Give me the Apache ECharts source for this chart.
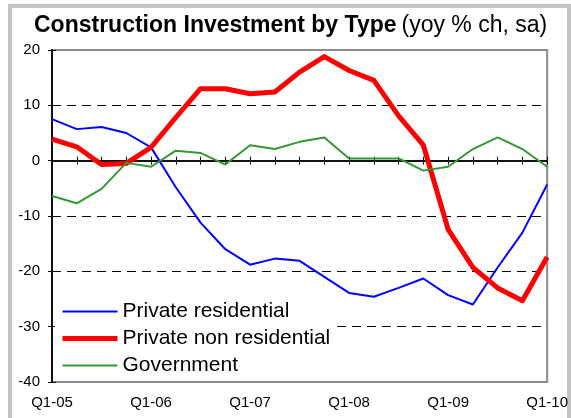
<!DOCTYPE html>
<html>
<head>
<meta charset="utf-8">
<title>Construction Investment by Type</title>
<script src="https://cdn.jsdelivr.net/npm/echarts@6/dist/echarts.min.js"></script>
<style>
html, body { margin: 0; padding: 0; background: #fff; overflow: hidden; }
.frame {
  position: absolute; left: 8px; top: 4px;
  width: 563px; height: 440px;
  box-sizing: border-box;
  border: 4px solid #c4c4c4;
  background: #fff;
}
#chart { position: absolute; left: 0; top: 0; width: 571px; height: 418px; }
</style>
</head>
<body>
<div class="frame"></div>
<div id="chart"></div>
<script>
// quarters Q1-05 .. Q1-10
var quarters = [
  'Q1-05','Q2-05','Q3-05','Q4-05',
  'Q1-06','Q2-06','Q3-06','Q4-06',
  'Q1-07','Q2-07','Q3-07','Q4-07',
  'Q1-08','Q2-08','Q3-08','Q4-08',
  'Q1-09','Q2-09','Q3-09','Q4-09',
  'Q1-10'
];
var privateResidential = [7.5, 5.7, 6.1, 5.0, 2.4, -4.8, -11.2, -16.0, -18.8, -17.7, -18.1,
  -21.0, -23.9, -24.6, -23.0, -21.3, -24.3, -26.0, -19.3, -13.0, -4.3];
var privateNonResidential = [3.9, 2.5, -0.7, -0.5, 2.4, 7.8, 13.0, 13.0, 12.1, 12.4, 16.0,
  18.8, 16.3, 14.5, 8.1, 2.8, -12.4, -19.3, -23.0, -25.3, -17.4];
var government = [-6.4, -7.7, -5.1, -0.4, -1.1, 1.8, 1.4, -0.7, 2.8, 2.1, 3.4,
  4.2, 0.4, 0.4, 0.4, -1.8, -1.1, 2.1, 4.2, 2.1, -1.1];
var yTicks = [-40, -30, -20, -10, 0, 10, 20];

var font = "'Liberation Sans', Arial, sans-serif";
var chart = echarts.init(document.getElementById('chart'));

var option = {
  backgroundColor: 'transparent',
  animation: false,
  title: {
    text: '{b|Construction Investment by Type} {n|(yoy % ch, sa)}',
    left: 29,
    top: 9,
    textStyle: {
      rich: {
        b: { fontFamily: font, fontSize: 23, fontWeight: 'bold', color: '#000' },
        n: { fontFamily: font, fontSize: 23, fontWeight: 'normal', color: '#000' }
      }
    }
  },
  grid: {
    left: 52, right: 23, top: 50, bottom: 36,
    show: true,
    borderColor: '#8c8c8c',
    borderWidth: 2,
    backgroundColor: 'transparent'
  },
  legend: {
    orient: 'vertical',
    left: 55,
    top: 296,
    padding: [5, 3, 5, 5],
    backgroundColor: '#fff',
    itemWidth: 55,
    itemHeight: 14,
    itemGap: 6,
    itemStyle: { opacity: 0 },
    textStyle: { fontFamily: font, fontSize: 21, color: '#000' },
    data: [
      { name: 'Private residential', lineStyle: { width: 2 } },
      { name: 'Private non residential', lineStyle: { width: 5 } },
      { name: 'Government', lineStyle: { width: 2 } }
    ]
  },
  xAxis: [
    {
      type: 'category',
      data: quarters,
      boundaryGap: false,
      axisLine: { lineStyle: { color: '#111', width: 2 } },
      axisTick: { show: true, interval: 0, length: 4, lineStyle: { color: '#111' } },
      axisLabel: { interval: 3, margin: 13, fontFamily: font, fontSize: 15, color: '#000' },
      splitLine: { show: false }
    },
    {
      type: 'category',
      data: quarters,
      boundaryGap: false,
      position: 'bottom',
      axisLine: { show: false },
      axisTick: { show: true, inside: true, interval: 0, length: 4, lineStyle: { color: '#111' } },
      axisLabel: { show: false },
      splitLine: { show: false }
    }
  ],
  yAxis: [
    {
      type: 'value',
      min: yTicks[0], max: yTicks[yTicks.length - 1], interval: 10,
      axisLine: { show: true, lineStyle: { color: '#111', width: 2 } },
      axisTick: { show: true, length: 4, lineStyle: { color: '#111' } },
      axisLabel: { margin: 12, fontFamily: font, fontSize: 15, color: '#000' },
      splitLine: {
        show: true,
        showMinLine: false,
        showMaxLine: false,
        lineStyle: { color: '#000', width: 1, type: [9, 6] }
      }
    },
    {
      type: 'value',
      position: 'left',
      min: yTicks[0], max: yTicks[yTicks.length - 1], interval: 10,
      axisLine: { show: false },
      axisTick: { show: true, inside: true, length: 4, lineStyle: { color: '#111' } },
      axisLabel: { show: false },
      splitLine: { show: false }
    }
  ],
  series: [
    {
      name: 'Private residential',
      type: 'line',
      data: privateResidential,
      symbol: 'none',
      color: '#0000ff',
      lineStyle: { color: '#0000ff', width: 2 }
    },
    {
      name: 'Private non residential',
      type: 'line',
      data: privateNonResidential,
      symbol: 'none',
      color: '#ff0000',
      lineStyle: { color: '#ff0000', width: 5, join: 'round' }
    },
    {
      name: 'Government',
      type: 'line',
      data: government,
      symbol: 'none',
      color: '#339933',
      lineStyle: { color: '#339933', width: 2 }
    }
  ]
};

chart.setOption(option);
</script>
</body>
</html>
